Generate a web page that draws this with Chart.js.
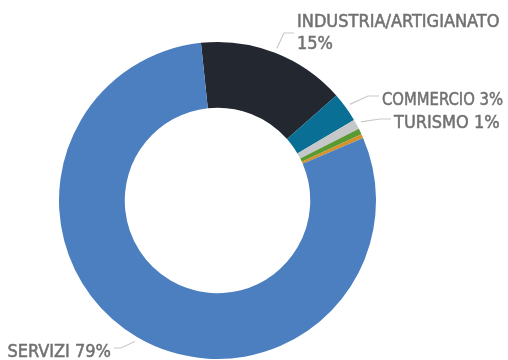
<!DOCTYPE html>
<html>
<head>
<meta charset="utf-8">
<script src="https://cdn.jsdelivr.net/npm/chart.js@4"></script>
<style>
    html, body { margin: 0; padding: 0; background: #fff; }
    #wrap { width: 508px; height: 360px; }
</style>
</head>
<body>
<div id="wrap"><canvas id="chart"></canvas></div>
<script>
// settori, in ordine orario a partire dall'alto
const settori = ['INDUSTRIA/ARTIGIANATO', 'COMMERCIO', 'TURISMO', 'AGRICOLTURA', 'ALTRO', 'SERVIZI'];
const quote = [15, 3, 1, 0.6, 0.4, 79];
const colori = ['#23272f', '#0a6f95', '#c6c7c8', '#5a9a33', '#d4912c', '#4c7fbf'];
// etichette mostrate (null = nessuna etichetta)
const etichette = [['INDUSTRIA/ARTIGIANATO', '15%'], ['COMMERCIO 3%'], ['TURISMO 1%'], null, null, ['SERVIZI 79%']];

// gomito della linea guida e lato del testo per ogni etichetta
const guide = [
    { ex: 284, ey: 33, hx: 294, align: 'left' },
    { ex: 368, ey: 96, hx: 379, align: 'left' },
    { ex: 380, ey: 119, hx: 391, align: 'left' },
    null,
    null,
    { ex: 121, ey: 348, hx: 114, align: 'right' }
];

const leaderLabels = {
    id: 'leaderLabels',
    afterDatasetsDraw(chart) {
        const ctx = chart.ctx;
        const arcs = chart.getDatasetMeta(0).data;
        ctx.save();
        ctx.font = '18px "Liberation Sans Narrow", "DejaVu Sans Condensed", sans-serif';
        ctx.textBaseline = 'alphabetic';
        arcs.forEach((arc, i) => {
            const g = guide[i];
            if (!g || !etichette[i]) return;
            const p = arc.getProps(['x', 'y', 'startAngle', 'endAngle', 'outerRadius'], true);
            const mid = (p.startAngle + p.endAngle) / 2;
            const r = p.outerRadius + 5;
            const sx = p.x + Math.cos(mid) * r;
            const sy = p.y + Math.sin(mid) * r;

            ctx.strokeStyle = '#c9c9c9';
            ctx.lineWidth = 1.2;
            ctx.beginPath();
            ctx.moveTo(sx, sy);
            ctx.lineTo(g.ex, g.ey);
            ctx.lineTo(g.hx, g.ey);
            ctx.stroke();

            // testo grigio con un filo di contorno per ispessirlo
            ctx.fillStyle = '#717171';
            ctx.strokeStyle = '#717171';
            ctx.lineWidth = 0.5;
            ctx.textAlign = g.align;
            const tx = g.align === 'left' ? g.hx + 3 : g.hx - 3;
            // larghezza massima: il testo resta dentro la tela
            const maxW = g.align === 'left' ? chart.width - 5 - tx : tx - 6;
            const righe = etichette[i];
            const linee = righe.length === 2
                ? [[righe[0], g.ey - 6], [righe[1], g.ey + 16]]
                : [[righe[0], g.ey + 9]];
            linee.forEach(([t, y]) => {
                ctx.fillText(t, tx, y, maxW);
                ctx.strokeText(t, tx, y, maxW);
            });
        });
        ctx.restore();
    }
};

new Chart(document.getElementById('chart'), {
    type: 'doughnut',
    data: {
        labels: settori,
        datasets: [{
            data: quote,
            backgroundColor: colori,
            borderWidth: 0
        }]
    },
    options: {
        responsive: true,
        maintainAspectRatio: false,
        animation: false,
        rotation: -6,
        cutout: '58.5%',
        layout: { padding: { left: 59, right: 132, top: 42, bottom: 1 } },
        plugins: {
            legend: { display: false },
            tooltip: { enabled: false }
        }
    },
    plugins: [leaderLabels]
});
</script>
</body>
</html>
